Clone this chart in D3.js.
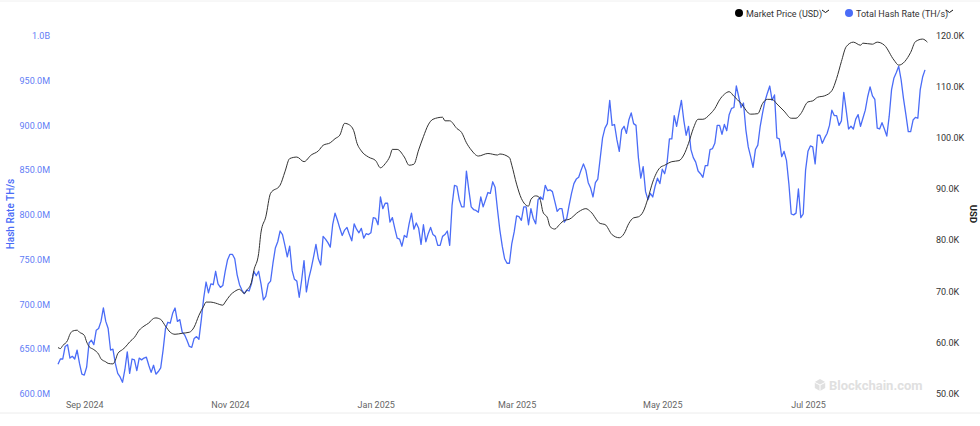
<!DOCTYPE html>
<html>
<head>
<meta charset="utf-8">
<script src="https://cdn.jsdelivr.net/npm/d3@7"></script>
<style>
  html, body { margin: 0; padding: 0; background: #fff; }
  text { font-family: Roboto, "Noto Sans", sans-serif; }
  .axis path.domain, .axis line { display: none; }
</style>
</head>
<body>
<svg id="chart" width="980" height="426"></svg>
<script>
// first day of both series
const startDate = new Date(2024, 7, 21);

// total hash rate, millions of TH/s, one value a day
const hashRate = [
  632,638,638,652,654,639,641,638,648,633,621,620,629,656,659,654,670,672,680,695,
  680,672,648,649,633,622,618,612,626,646,622,638,637,625,639,637,639,640,631,623,
  631,621,624,628,648,672,679,678,689,695,680,682,668,665,659,652,651,661,663,660,
  682,706,724,712,722,721,736,722,718,720,736,749,755,755,750,732,721,715,711,715,
  714,722,736,731,736,722,704,708,722,725,745,762,769,781,777,765,752,764,737,727,
  725,707,726,748,713,728,739,752,766,750,743,775,772,768,763,788,801,793,784,776,
  782,785,777,770,789,783,779,784,773,778,777,779,796,795,788,819,806,812,812,791,
  796,784,773,772,764,776,774,789,801,783,790,784,766,788,769,778,785,777,775,765,
  765,775,777,781,765,810,832,831,816,808,808,848,827,808,805,804,802,819,808,816,
  824,823,836,830,805,782,764,750,745,745,767,780,798,797,793,808,808,788,806,795,
  789,816,819,816,832,826,827,825,814,803,806,806,791,795,810,823,834,839,841,849,
  856,849,835,829,819,835,839,862,885,896,901,927,899,900,883,870,894,898,890,905,
  913,901,899,863,840,853,825,816,823,819,831,840,834,850,845,857,884,884,910,898,
  913,927,905,888,898,872,863,858,848,845,841,854,854,872,873,879,899,899,889,900,
  893,911,918,919,943,931,919,924,894,875,864,852,872,877,898,913,926,935,943,927,
  933,885,884,864,870,860,834,800,799,801,828,796,800,849,870,876,875,856,888,888,
  879,885,890,899,916,910,910,899,904,936,916,895,898,895,906,911,898,907,916,931,
  942,932,928,896,895,902,895,887,909,939,952,958,965,950,929,911,892,892,905,908,
  907,939,953,961
];

const priceDays = [
  0,1,2,4,5,6,8,9,11,12,13,15,17,18,20,21,23,24,25,27,28,30,32,34,36,38,40,41,43,45,
  47,49,52,55,57,59,61,62,64,66,69,70,72,74,76,78,79,81,82,84,85,87,89,93,95,97,100,103,106,109,
  111,114,116,118,120,122,124,125,127,130,133,135,137,139,140,142,145,147,149,151,153,155,157,161,162,164,167,169,171,173,
  176,180,184,185,189,190,192,194,197,198,200,201,202,203,205,206,208,210,212,214,218,221,223,227,229,232,235,237,239,241,
  243,245,247,249,252,254,257,260,262,264,266,268,270,273,275,277,279,281,283,286,290,293,295,297,299,301,304,307,309,311,
  314,316,318,321,324,326,328,330,333,336,337,341,343,346,350,352,357,359,362,364
];
// thousands of USD
const marketPrice = [
  58.8,58.6,59.2,60.2,61.4,62.0,62.2,61.8,61.2,59.9,59.0,58.4,57.5,56.6,56.0,55.7,55.6,56.3,57.6,58.4,58.8,59.9,60.8,62.2,63.0,63.6,64.5,64.6,64.3,63.0,
  61.8,61.4,61.6,61.8,62.8,65.1,66.9,67.7,67.7,67.5,67.1,67.7,69.0,69.8,70.2,69.4,70.0,71.6,73.9,77.2,81.4,84.4,89.0,90.6,93.2,95.8,96.1,95.2,96.5,97.3,
  98.4,98.9,99.7,100.4,102.7,102.4,101.0,99.1,97.3,96.1,95.4,94.0,94.8,96.3,97.6,97.6,96.1,94.5,94.7,97.5,100.1,102.4,103.5,103.9,103.2,103.2,101.7,100.9,98.9,97.5,
  96.3,96.8,96.5,96.7,96.0,94.5,90.8,88.0,86.5,87.8,88.5,88.4,87.6,85.4,84.1,82.5,82.0,82.9,83.7,83.9,85.4,86.0,85.4,83.1,82.9,80.9,80.3,81.1,83.1,84.2,
  84.4,85.4,88.0,91.2,94.0,94.5,95.2,95.4,96.5,98.8,101.7,103.5,103.5,104.5,105.6,107.3,108.4,108.9,108.0,106.6,104.5,104.6,106.6,107.4,107.4,106.5,105.1,103.7,103.7,104.6,
  106.9,107.1,107.8,108.1,109.1,111.5,114.8,117.7,118.6,118.0,118.4,118.2,118.6,118.0,115.1,114.1,116.6,118.7,119.2,118.6
];

const hashTicks = [600, 650, 700, 750, 800, 850, 900, 950, 1000];
const hashTickLabels = ['600.0M', '650.0M', '700.0M', '750.0M', '800.0M', '850.0M', '900.0M', '950.0M', '1.0B'];
const priceTicks = [50, 60, 70, 80, 90, 100, 110, 120];
const dateTicks = [new Date(2024, 8, 1), new Date(2024, 10, 1), new Date(2025, 0, 1), new Date(2025, 2, 1), new Date(2025, 4, 1), new Date(2025, 6, 1)];
const legendLabels = ['Market Price (USD)', 'Total Hash Rate (TH/s)'];

const blue = '#4a6cf7',
      black = '#333';

const svg = d3.select('#chart');

const x = d3.scaleTime()
  .domain([startDate, d3.timeDay.offset(startDate, 363)])
  .range([58, 925]);
const yHash = d3.scaleLinear().domain([600, 1000]).range([393, 35]);
const yPrice = d3.scaleLinear().domain([50, 120]).range([392.5, 35]);

// frame lines
svg.append('line').attr('x1', 0).attr('x2', 980).attr('y1', 1).attr('y2', 1).attr('stroke', '#f0f0f0');
svg.append('line').attr('x1', 0).attr('x2', 980).attr('y1', 413).attr('y2', 413).attr('stroke', '#ececec');

// watermark
const mark = svg.append('g').attr('transform', 'translate(820,385)');
mark.append('path')
  .attr('d', d3.line()(d3.range(6).map(i => [6 * Math.sin(i * Math.PI / 3), -6 * Math.cos(i * Math.PI / 3)])) + 'Z')
  .attr('fill', '#e0e0e0');
mark.append('path').attr('d', 'M-6,-3L0,0L6,-3M0,0V6').attr('fill', 'none').attr('stroke', '#fff').attr('stroke-width', 1);
mark.append('text').attr('x', 9).attr('y', 4.5)
  .attr('font-size', 13).attr('font-weight', 700).attr('fill', '#e0e0e0')
  .text('Blockchain.com');

// axes
const axisLeft = svg.append('g').attr('class', 'axis')
  .attr('transform', 'translate(58,0.8)')
  .call(d3.axisLeft(yHash).tickValues(hashTicks).tickSize(0).tickPadding(8)
    .tickFormat((d, i) => hashTickLabels[i]));
axisLeft.selectAll('text').attr('fill', '#5f7df5').attr('font-size', 9);

const axisRight = svg.append('g').attr('class', 'axis')
  .attr('transform', 'translate(925,0.8)')
  .call(d3.axisRight(yPrice).tickValues(priceTicks).tickSize(0).tickPadding(11)
    .tickFormat(d => d.toFixed(1) + 'K'));
axisRight.selectAll('text').attr('fill', '#333').attr('font-size', 9);

const axisBottom = svg.append('g').attr('class', 'axis')
  .attr('transform', 'translate(0,394)')
  .call(d3.axisBottom(x).tickValues(dateTicks).tickSize(0).tickPadding(8)
    .tickFormat(d3.timeFormat('%b %Y')));
axisBottom.selectAll('text').attr('fill', '#666').attr('font-size', 9);

// axis titles
svg.append('text')
  .attr('transform', 'translate(13.5,214) rotate(-90)')
  .attr('text-anchor', 'middle').attr('font-size', 10).attr('font-weight', 500).attr('fill', blue)
  .text('Hash Rate TH/s');
svg.append('text')
  .attr('transform', 'translate(970,214) rotate(90)')
  .attr('text-anchor', 'middle').attr('font-size', 9.5).attr('font-weight', 700).attr('fill', '#222')
  .text('USD');

// series
const hashLine = d3.line()
  .x((d, i) => x(d3.timeDay.offset(startDate, i)))
  .y(d => yHash(d));
svg.append('path').datum(hashRate)
  .attr('d', hashLine)
  .attr('fill', 'none').attr('stroke', blue).attr('stroke-width', 1.3).attr('stroke-linejoin', 'round');

const priceLine = d3.line()
  .x((d, i) => x(d3.timeDay.offset(startDate, priceDays[i])))
  .y(d => yPrice(d))
  .curve(d3.curveMonotoneX);
svg.append('path').datum(marketPrice)
  .attr('d', priceLine)
  .attr('fill', 'none').attr('stroke', black).attr('stroke-width', 1);

// legend
const legendX = [739, 849];
const legendColor = ['#000', blue];
const chevronX = [822, 946];
legendLabels.forEach((label, i) => {
  svg.append('circle').attr('cx', legendX[i]).attr('cy', 13).attr('r', 4).attr('fill', legendColor[i]);
  svg.append('text').attr('x', legendX[i] + 7).attr('y', 16.5)
    .attr('font-size', 9).attr('fill', '#333').text(label);
  svg.append('path')
    .attr('d', 'M' + chevronX[i] + ',10l3.5,2.5l3.5,-2.5')
    .attr('fill', 'none').attr('stroke', '#111').attr('stroke-width', 1);
});
</script>
</body>
</html>
